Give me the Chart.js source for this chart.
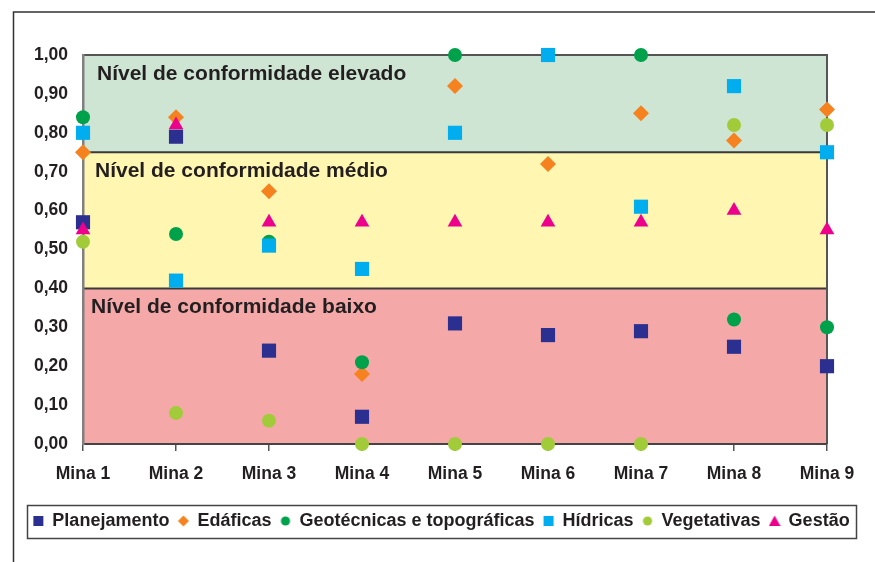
<!DOCTYPE html>
<html><head><meta charset="utf-8">
<script src="https://cdn.jsdelivr.net/npm/chart.js@4/dist/chart.umd.min.js"></script>
<style>html,body{margin:0;padding:0;background:#fff}</style>
</head><body>
<canvas id="c" width="875" height="562"></canvas>
<script>
const categories = ['Mina 1','Mina 2','Mina 3','Mina 4','Mina 5','Mina 6','Mina 7','Mina 8','Mina 9'];
const planejamento = [0.57, 0.79, 0.24, 0.07, 0.31, 0.28, 0.29, 0.25, 0.20];
const edaficas     = [0.75, 0.84, 0.65, 0.18, 0.92, 0.72, 0.85, 0.78, 0.86];
const geotecnicas  = [0.84, 0.54, 0.52, 0.21, 1.00, 1.00, 1.00, 0.32, 0.30];
const hidricas     = [0.80, 0.42, 0.51, 0.45, 0.80, 1.00, 0.61, 0.92, 0.75];
const vegetativas  = [0.52, 0.08, 0.06, 0.00, 0.00, 0.00, 0.00, 0.82, 0.82];
const gestao       = [0.55, 0.82, 0.57, 0.57, 0.57, 0.57, 0.57, 0.60, 0.55];
const seriesNames = ['Planejamento','Edáficas','Geotécnicas e topográficas','Hídricas','Vegetativas','Gestão'];
const yMin = 0, yMax = 1, yStep = 0.1;
const bandLimits = [0, 0.40, 0.75, 1.00];
const bandLabels = ['Nível de conformidade baixo','Nível de conformidade médio','Nível de conformidade elevado'];

const FONT = '"Liberation Sans", Arial, Helvetica, sans-serif';
const TXT = '#231f20';
const colors = ['#2b2f8f','#f5821f','#00a14b','#00aeef','#a2cb3a','#ec008c'];
const styles = ['rect','rectRot','circle','rect','circle','triangle'];
const radii  = [10, 8, 7, 10, 7, 8.5];
const bandFills = ['#f4a8a8','#fff6b2','#cfe5d4'];

function legendMarker(shape, color){
  const c = document.createElement('canvas'); c.width = 12; c.height = 12;
  const g = c.getContext('2d'); g.fillStyle = color; g.beginPath();
  if (shape === 'rect') g.rect(1,1,10,10);
  else if (shape === 'rectRot') { g.moveTo(6,0.5); g.lineTo(11.5,6); g.lineTo(6,11.5); g.lineTo(0.5,6); g.closePath(); }
  else if (shape === 'circle') g.arc(6,6,4.6,0,Math.PI*2);
  else { g.moveTo(6,0.5); g.lineTo(11.8,11); g.lineTo(0.2,11); g.closePath(); }
  g.fill();
  return c;
}
const legendImgs = styles.map((s,i)=>legendMarker(s, colors[i]));

const allSeries = [planejamento, edaficas, geotecnicas, hidricas, vegetativas, gestao];
const datasets = allSeries.map((d,i)=>({
  label: seriesNames[i],
  data: d,
  showLine: false,
  pointStyle: styles[i],
  pointRadius: radii[i],
  pointHoverRadius: radii[i],
  backgroundColor: colors[i],
  borderColor: colors[i],
  pointBorderWidth: 0,
  clip: false,
  order: 6 - i
}));

const bandsPlugin = {
  id: 'bands',
  beforeDraw(chart){
    const {ctx, chartArea:a, scales:{y}} = chart;
    ctx.save();
    for (let i=0;i<3;i++){
      const t = y.getPixelForValue(bandLimits[i+1]), b = y.getPixelForValue(bandLimits[i]);
      ctx.fillStyle = bandFills[i];
      ctx.fillRect(a.left, t, a.right-a.left, b-t);
    }
    ctx.strokeStyle = '#3a3a3a'; ctx.lineWidth = 2;
    ctx.beginPath();
    [bandLimits[1], bandLimits[2]].forEach(v=>{ const p=y.getPixelForValue(v); ctx.moveTo(a.left,p); ctx.lineTo(a.right,p); });
    ctx.stroke();
    ctx.strokeStyle = '#555'; ctx.beginPath();
    const top = y.getPixelForValue(bandLimits[3]);
    ctx.moveTo(a.left, top); ctx.lineTo(a.right, top); ctx.lineTo(a.right, a.bottom);
    ctx.stroke();
    ctx.strokeStyle = '#333'; ctx.lineWidth = 1.5; ctx.beginPath();
    ctx.moveTo(13.5, chart.height); ctx.lineTo(13.5, 12); ctx.lineTo(chart.width, 12); ctx.stroke();
    ctx.restore();
  },
  beforeDatasetsDraw(chart){
    const {ctx, chartArea:a, scales:{y}} = chart;
    const xOff = [8, 12, 14];
    ctx.save();
    ctx.font = 'bold 21px ' + FONT; ctx.fillStyle = TXT; ctx.textBaseline = 'alphabetic'; ctx.textAlign = 'left';
    for (let i=0;i<3;i++){
      ctx.fillText(bandLabels[i], a.left + xOff[i], y.getPixelForValue(bandLimits[i+1]) + 25);
    }
    ctx.restore();
  },
  afterDraw(chart){
    const boxes = chart.legend.legendHitBoxes;
    if (!boxes || !boxes.length) return;
    const ctx = chart.ctx;
    const l = Math.min(...boxes.map(b=>b.left)) - 6;
    const r = Math.max(...boxes.map(b=>b.left+b.width)) + 7;
    const cy = boxes[0].top + boxes[0].height/2;
    ctx.save(); ctx.strokeStyle = '#444'; ctx.lineWidth = 1.5;
    ctx.strokeRect(Math.round(l)+0.5, Math.round(cy-16.5)+0.5, Math.round(r-l), 33);
    ctx.restore();
  }
};

new Chart(document.getElementById('c'), {
  type: 'line',
  data: { labels: categories, datasets },
  options: {
    responsive: false, animation: false,
    layout: { padding: { top: 55, left: 8, right: 0, bottom: 22 } },
    plugins: {
      tooltip: { enabled: false },
      legend: {
        position: 'bottom',
        labels: {
          usePointStyle: true, boxWidth: 10, boxHeight: 10, padding: 9,
          color: TXT, font: { family: FONT, size: 18, weight: 'bold' },
          sort: (a,b)=>a.datasetIndex-b.datasetIndex,
          generateLabels(chart){
            const items = Chart.defaults.plugins.legend.labels.generateLabels(chart);
            items.forEach(it=>{ it.pointStyle = legendImgs[it.datasetIndex]; });
            return items;
          }
        }
      }
    },
    scales: {
      x: {
        type: 'category', offset: false,
        grid: { display: true, drawOnChartArea: false, drawTicks: true, tickLength: 7, color: '#555', lineWidth: 1.5 },
        border: { display: true, color: '#444', width: 2 },
        ticks: { color: TXT, font: { family: FONT, size: 17.5, weight: 'bold' }, padding: 13, maxRotation: 0, autoSkip: false },
        afterFit(s){ s.height = 59; }
      },
      y: {
        position: 'left', min: yMin, max: yMax,
        grid: { display: false },
        border: { display: true, color: '#808080', width: 2.5 },
        ticks: { stepSize: yStep, color: TXT, font: { family: FONT, size: 17.5, weight: 'bold' }, padding: 7,
          callback: v => Number(v).toFixed(2).replace('.', ',') },
        afterFit(s){ s.width = 75; }
      },
      yR: {
        position: 'right', min: yMin, max: yMax,
        grid: { display: false }, border: { display: false },
        ticks: { display: false },
        afterFit(s){ s.width = 48; }
      }
    }
  },
  plugins: [bandsPlugin]
});
</script>
</body></html>
